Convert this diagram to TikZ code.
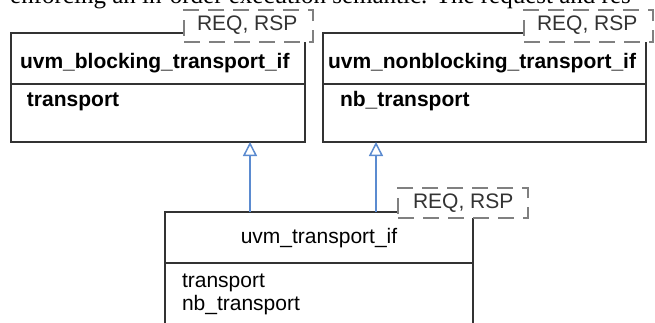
\documentclass[tikz,border=0pt]{standalone}
\usepackage{fontspec}
\setmainfont{Liberation Sans}
\newfontfamily\docserif{Liberation Serif}
\usetikzlibrary{arrows.meta}
\definecolor{boxline}{HTML}{333333}
\definecolor{tmpline}{HTML}{808080}
\definecolor{inhblue}{HTML}{5B8BD0}
\begin{document}
\begin{tikzpicture}[x=1pt,y=-1pt,
  umlbox/.style={draw=boxline,line width=2pt,fill=white,inner sep=0pt,outer sep=0pt},
  tmpl/.style={draw=tmpline,line width=2.5pt,dash pattern=on 16pt off 9pt,fill=white,inner sep=0pt,outer sep=0pt},
  divider/.style={draw=boxline,line width=2pt},
  lbl/.style={inner sep=0pt,outer sep=0pt,font=\fontsize{21}{24}\selectfont},
  blbl/.style={lbl,font=\fontsize{21}{24}\selectfont\bfseries},
  tlbl/.style={lbl,text=black!80},
  inh/.style={draw=inhblue,line width=1.5pt,-{Triangle[open,length=14pt,width=14pt,line width=1.5pt]}}
]
\useasboundingbox (0,0) rectangle (655,322);
\clip (0,0) rectangle (655,322);
\fill[white] (0,0) rectangle (655,322);

% cut-off text line from the surrounding page
\node[inner sep=0pt,anchor=base west,font=\docserif\fontsize{25}{28}\selectfont] (doc) at (10,3)
  {enforcing an in-order execution semantic. The request and res};

% class boxes
\node[umlbox,minimum width=294pt,minimum height=109pt] (b1) at (158,87.5) {};
\node[umlbox,minimum width=323pt,minimum height=109pt] (b2) at (484.5,87.5) {};
\node[umlbox,minimum width=308pt,minimum height=133pt] (b3) at (319,278.5) {};

\coordinate (d1) at (0,84);
\coordinate (d3) at (0,263);
\draw[divider] (b1.west |- d1) -- (b1.east |- d1);
\draw[divider] (b2.west |- d1) -- (b2.east |- d1);
\draw[divider] (b3.west |- d3) -- (b3.east |- d3);

% template parameter boxes
\node[tmpl,minimum width=129pt,minimum height=32pt] (t1) at (248.5,26) {};
\node[tmpl,minimum width=129pt,minimum height=32pt] (t2) at (588.5,26) {};
\node[tmpl,minimum width=130pt,minimum height=30pt] (t3) at (463,203) {};

\node[tlbl,anchor=base west] (t1l) at (197,30) {REQ, RSP};
\node[tlbl,anchor=base west] (t2l) at (537,30) {REQ, RSP};
\node[tlbl,anchor=base west] (t3l) at (413,208) {REQ, RSP};

% labels
\node[blbl,anchor=base west] (n1) at (20,68) {uvm\_blocking\_transport\_if};
\node[blbl,anchor=base west] (m1) at (27,106) {transport};
\node[blbl,anchor=base west] (n2) at (328,68) {uvm\_nonblocking\_transport\_if};
\node[blbl,anchor=base west] (m2) at (340,106) {nb\_transport};
\node[lbl,anchor=base] (n3) at (319,243) {uvm\_transport\_if};
\node[lbl,anchor=base west] (m3a) at (182,287) {transport};
\node[lbl,anchor=base west] (m3b) at (182,310) {nb\_transport};

% inheritance arrows
\coordinate (x1) at (250,0);
\coordinate (x2) at (376,0);
\draw[inh] (b3.north -| x1) -- (b1.south -| x1);
\draw[inh] (b3.north -| x2) -- (b2.south -| x2);
\end{tikzpicture}
\end{document}
